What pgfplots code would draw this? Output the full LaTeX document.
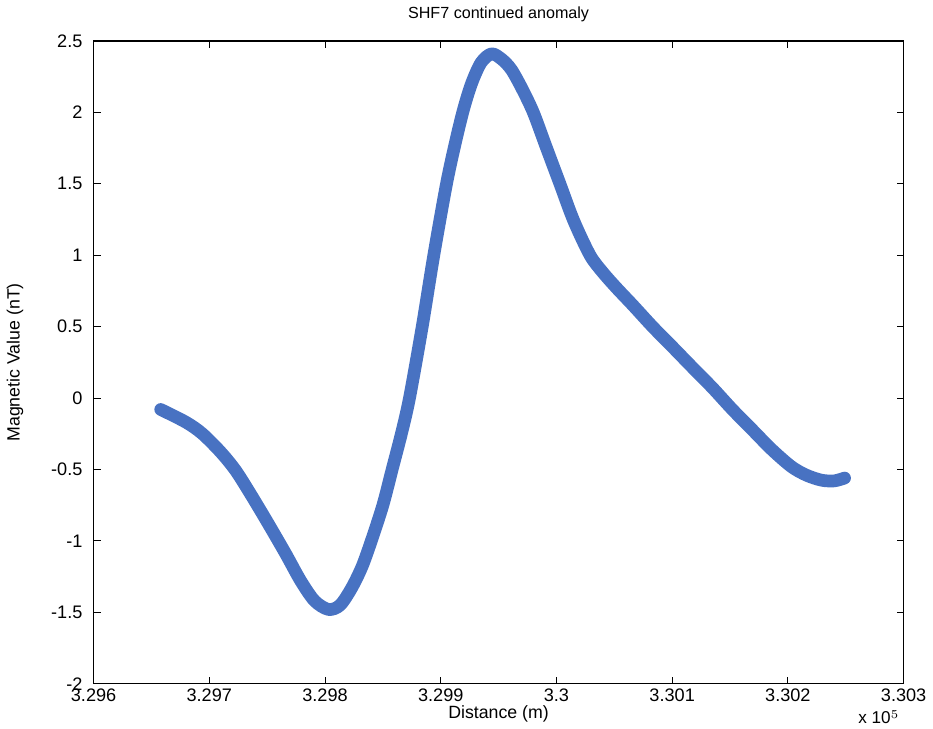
\documentclass[border=0pt]{standalone}
\usepackage{pgfplots}
\pgfplotsset{compat=1.18}
\usepackage{fontspec}
\setmainfont{Liberation Sans}
\definecolor{mblue}{RGB}{72,114,194}
\begin{document}
\begin{tikzpicture}
\begin{axis}[
  scale only axis,
  width=402pt, height=319pt,
  xmin=329600, xmax=330300,
  ymin=-2, ymax=2.5,
  xtick={329600,329700,329800,329900,330000,330100,330200,330300},
  xticklabels={3.296,3.297,3.298,3.299,3.3,3.301,3.302,3.303},
  scaled x ticks=false,
  ytick={-2,-1.5,-1,-0.5,0,0.5,1,1.5,2,2.5},
  tick align=inside,
  major tick length=3.5pt,
  tick style={black, line width=0.5pt},
  axis line style={black, line width=0.6pt},
  ticklabel style={font=\fontsize{9}{10}\selectfont},
  yticklabel style={xshift=-2pt},
  xticklabel style={yshift=1pt},
  /pgf/number format/assume math mode=true,
  title={SHF7 continued anomaly},
  title style={font=\fontsize{8}{9}\selectfont, yshift=0pt},
  xlabel={Distance (m)},
  ylabel={Magnetic Value (nT)},
  label style={font=\fontsize{8.8}{10}\selectfont},
  xlabel style={yshift=5pt},
  ylabel style={yshift=7pt},
  clip=false,
]
\addplot[mblue, line width=6.3pt, line cap=round, line join=round, smooth] coordinates {
(329658,-0.08)
(329680,-0.17)
(329694,-0.25)
(329710,-0.38)
(329723,-0.51)
(329737,-0.69)
(329751,-0.88)
(329766,-1.09)
(329779,-1.28)
(329791,-1.42)
(329803,-1.48)
(329813,-1.45)
(329823,-1.33)
(329832,-1.18)
(329840,-1.00)
(329850,-0.75)
(329858,-0.50)
(329866,-0.25)
(329873,0.00)
(329884,0.50)
(329894,1.00)
(329905,1.50)
(329913,1.80)
(329920,2.03)
(329927,2.21)
(329935,2.35)
(329944,2.41)
(329953,2.37)
(329961,2.30)
(329970,2.17)
(329980,2.00)
(329991,1.76)
(330003,1.50)
(330015,1.24)
(330029,1.00)
(330040,0.88)
(330052,0.77)
(330066,0.65)
(330083,0.50)
(330100,0.36)
(330118,0.21)
(330135,0.07)
(330152,-0.08)
(330169,-0.22)
(330186,-0.36)
(330203,-0.48)
(330216,-0.54)
(330229,-0.575)
(330240,-0.58)
(330249,-0.56)
};
\node[anchor=north east, font=\fontsize{8.5}{9}\selectfont, inner sep=0pt] at ([xshift=-2pt,yshift=-13pt]rel axis cs:1,0) {x 10$^{5}$};
\end{axis}
\end{tikzpicture}
\end{document}
